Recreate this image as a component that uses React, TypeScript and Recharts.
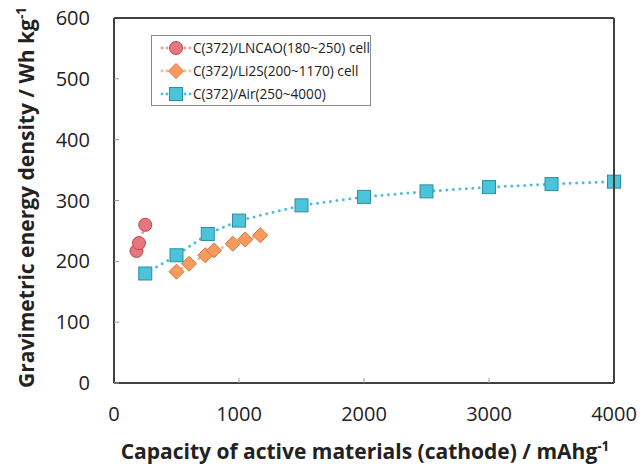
import { ScatterChart, Scatter, XAxis, YAxis, Label } from 'recharts'

const lncaoX = [180, 200, 250]
const lncaoY = [217, 230, 260]
const li2sX = [500, 600, 730, 800, 950, 1050, 1170]
const li2sY = [183, 196, 210, 218, 229, 236, 243]
const airX = [250, 500, 750, 1000, 1500, 2000, 2500, 3000, 3500, 4000]
const airY = [180, 210, 245, 267, 292, 306, 315, 322, 327, 331]
const xTicks = [0, 1000, 2000, 3000, 4000]
const yTicks = [0, 100, 200, 300, 400, 500, 600]

const FONT = '"Open Sans", sans-serif'
const FRAME = { stroke: '#404040', strokeWidth: 2 }
// plot box (matches chart margins / axis sizes below)
const PLOT = { left: 114, top: 18, right: 26, bottom: 85 }

const toPoints = (xs: number[], ys: number[]) => xs.map((x, i) => ({ x, y: ys[i] }))

const series = [
  {
    name: 'C(372)/LNCAO(180~250) cell',
    data: toPoints(lncaoX, lncaoY),
    fill: '#E8767E',
    stroke: '#B5474F',
    line: '#EC9AA0',
    kind: 'circle',
  },
  {
    name: 'C(372)/Li2S(200~1170) cell',
    data: toPoints(li2sX, li2sY),
    fill: '#F79A5E',
    stroke: '#D9743A',
    line: '#F8B68C',
    kind: 'diamond',
  },
  {
    name: 'C(372)/Air(250~4000)',
    data: toPoints(airX, airY),
    fill: '#4BC4D9',
    stroke: '#2C8EA3',
    line: '#4BBFD3',
    kind: 'square',
  },
]

function Marker({ cx, cy, kind, fill, stroke }: any) {
  if (cx == null || cy == null) return null
  if (kind === 'circle') return <circle cx={cx} cy={cy} r={6.5} fill={fill} stroke={stroke} strokeWidth={1} />
  if (kind === 'diamond') {
    const d = 7.5
    return (
      <path
        d={`M${cx},${cy - d}L${cx + d},${cy}L${cx},${cy + d}L${cx - d},${cy}Z`}
        fill={fill}
        stroke={stroke}
        strokeWidth={1}
      />
    )
  }
  return <rect x={cx - 6.5} y={cy - 6.5} width={13} height={13} fill={fill} stroke={stroke} strokeWidth={1} />
}

function LegendBox() {
  return (
    <div
      style={{
        position: 'absolute',
        left: 151,
        top: 35,
        boxSizing: 'border-box',
        width: 220,
        height: 71,
        border: '1.5px solid #8a8a8a',
        background: '#fff',
        padding: '0 0 0 8px',
        fontFamily: FONT,
        fontSize: 13.6,
        color: '#222',
      }}
    >
      {series.map((s) => (
        <div key={s.name} style={{ display: 'flex', alignItems: 'center', height: 23 }}>
          <svg width={32} height={18} style={{ marginRight: 1 }}>
            {[2, 7, 25, 30].map((x) => (
              <circle key={x} cx={x} cy={9} r={1.4} fill={s.line} />
            ))}
            <Marker cx={16} cy={9} kind={s.kind} fill={s.fill} stroke={s.stroke} />
          </svg>
          <span>{s.name}</span>
        </div>
      ))}
    </div>
  )
}

function YTitle({ viewBox }: any) {
  const x = 34
  const y = viewBox.y + viewBox.height / 2 - 3
  return (
    <text
      x={x}
      y={y}
      transform={`rotate(-90, ${x}, ${y})`}
      textAnchor="middle"
      fontFamily={FONT}
      fontWeight="bold"
      fontSize={21}
      fill="#222"
    >
      Gravimetric energy density / Wh kg<tspan dy={-8} fontSize={13.5}>-1</tspan>
    </text>
  )
}

function XTitle({ viewBox }: any) {
  const x = viewBox.x + viewBox.width / 2 + 1
  return (
    <text x={x} y={459} textAnchor="middle" fontFamily={FONT} fontWeight="bold" fontSize={21} fill="#222">
      Capacity of active materials (cathode) / mAhg<tspan dy={-8} fontSize={13.5}>-1</tspan>
    </text>
  )
}

export default function App() {
  const w = 640
  const h = 468
  return (
    <div style={{ position: 'absolute', left: 0, top: 0, width: w, height: h, background: '#fff' }}>
      <div style={{ position: 'absolute', left: 0, top: 0 }}>
        <ScatterChart width={w} height={h} margin={{ top: PLOT.top, right: PLOT.right, bottom: 0, left: 0 }}>
          <XAxis
            type="number"
            dataKey="x"
            domain={[0, 4000]}
            ticks={xTicks}
            height={PLOT.bottom}
            axisLine={FRAME}
            tickLine={{ stroke: '#999' }}
            tickSize={-5}
            tickMargin={29}
            tick={{ fontFamily: FONT, fontSize: 20, fill: '#222' }}
          >
            <Label content={<XTitle />} />
          </XAxis>
          <YAxis
            type="number"
            dataKey="y"
            domain={[0, 600]}
            ticks={yTicks}
            width={PLOT.left}
            axisLine={FRAME}
            tickLine={{ stroke: '#999' }}
            tickSize={-5}
            tickMargin={29}
            tick={{ fontFamily: FONT, fontSize: 20, fill: '#222' }}
          >
            <Label content={<YTitle />} />
          </YAxis>
          {series.map((s) => (
            <Scatter
              key={s.name}
              name={s.name}
              data={s.data}
              isAnimationActive={false}
              line={{ stroke: s.line, strokeWidth: 3, strokeDasharray: '0 6.5', strokeLinecap: 'round' }}
              lineType="joint"
              shape={(p: any) => <Marker cx={p.cx} cy={p.cy} kind={s.kind} fill={s.fill} stroke={s.stroke} />}
            />
          ))}
        </ScatterChart>
      </div>
      <svg width={w} height={h} style={{ position: 'absolute', left: 0, top: 0, pointerEvents: 'none' }}>
        <line x1={PLOT.left} y1={PLOT.top} x2={w - PLOT.right} y2={PLOT.top} stroke="#404040" strokeWidth={2} />
        <line x1={w - PLOT.right} y1={PLOT.top} x2={w - PLOT.right} y2={h - PLOT.bottom} stroke="#404040" strokeWidth={2} />
      </svg>
      <LegendBox />
    </div>
  )
}
